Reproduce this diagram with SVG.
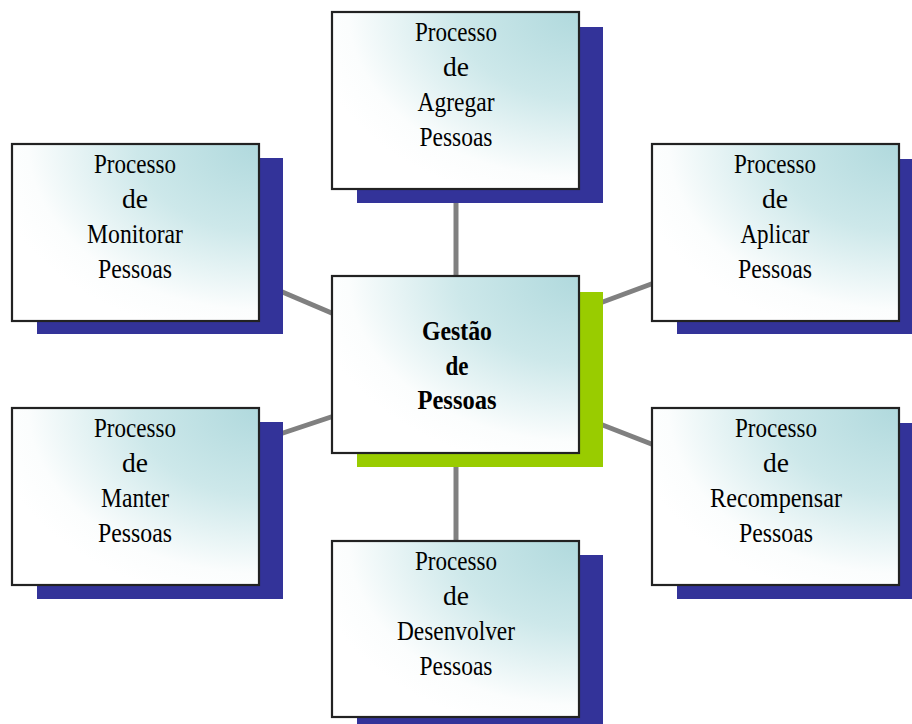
<svg xmlns="http://www.w3.org/2000/svg" width="912" height="724" viewBox="0 0 912 724">
<defs>
<radialGradient id="fill" cx="1" cy="0" r="1.1" fx="1" fy="0">
<stop offset="0" stop-color="#b0d9dd"/>
<stop offset="0.45" stop-color="#cde8ea"/>
<stop offset="0.85" stop-color="#fbfdfd"/>
<stop offset="1" stop-color="#ffffff"/>
</radialGradient>
<style>
.box{fill:url(#fill);stroke:#222;stroke-width:2.2}
.sb{fill:#333399}
.sg{fill:#99cc00}
.t{font-family:"Liberation Serif","Times New Roman",serif;font-size:27px;fill:#000;text-anchor:middle}
.b{font-weight:bold}
.c{stroke:#808080;stroke-width:5;fill:none}
</style>
</defs>
<rect width="912" height="724" fill="#fff"/>
<g id="connectors">
<line class="c" x1="456" y1="200" x2="456" y2="280"/>
<line class="c" x1="456" y1="462" x2="456" y2="544"/>
<line class="c" x1="280" y1="291" x2="334" y2="314"/>
<line class="c" x1="280" y1="434" x2="334" y2="416"/>
<line class="c" x1="600" y1="303" x2="654" y2="283"/>
<line class="c" x1="600" y1="424" x2="654" y2="445"/>
</g>
<g id="agregar">
<rect class="sb" x="357" y="27" width="246" height="176"/>
<rect class="box" x="332" y="12" width="247" height="177"/>
<text class="t" x="456" y="41" textLength="82" lengthAdjust="spacingAndGlyphs">Processo</text>
<text class="t" x="456" y="76" textLength="26" lengthAdjust="spacingAndGlyphs">de</text>
<text class="t" x="456" y="111" textLength="77" lengthAdjust="spacingAndGlyphs">Agregar</text>
<text class="t" x="456" y="146" textLength="73" lengthAdjust="spacingAndGlyphs">Pessoas</text>
</g>
<g id="monitorar">
<rect class="sb" x="37" y="158" width="246" height="176"/>
<rect class="box" x="12" y="144" width="247" height="177"/>
<text class="t" x="135" y="173" textLength="82" lengthAdjust="spacingAndGlyphs">Processo</text>
<text class="t" x="135" y="208" textLength="26" lengthAdjust="spacingAndGlyphs">de</text>
<text class="t" x="135" y="243" textLength="96" lengthAdjust="spacingAndGlyphs">Monitorar</text>
<text class="t" x="135" y="278" textLength="74" lengthAdjust="spacingAndGlyphs">Pessoas</text>
</g>
<g id="aplicar">
<rect class="sb" x="677" y="159" width="246" height="175"/>
<rect class="box" x="652" y="144" width="247" height="177"/>
<text class="t" x="775" y="173" textLength="82" lengthAdjust="spacingAndGlyphs">Processo</text>
<text class="t" x="775" y="208" textLength="26" lengthAdjust="spacingAndGlyphs">de</text>
<text class="t" x="775" y="243" textLength="69" lengthAdjust="spacingAndGlyphs">Aplicar</text>
<text class="t" x="775" y="278" textLength="74" lengthAdjust="spacingAndGlyphs">Pessoas</text>
</g>
<g id="gestao">
<rect class="sg" x="357" y="292" width="246" height="175"/>
<rect class="box" x="332" y="276" width="247" height="177"/>
<text class="t b" x="457" y="340" textLength="70" lengthAdjust="spacingAndGlyphs">Gestão</text>
<text class="t b" x="457" y="375" textLength="23" lengthAdjust="spacingAndGlyphs">de</text>
<text class="t b" x="457" y="409" textLength="79" lengthAdjust="spacingAndGlyphs">Pessoas</text>
</g>
<g id="manter">
<rect class="sb" x="37" y="422" width="246" height="177"/>
<rect class="box" x="12" y="408" width="247" height="177"/>
<text class="t" x="135" y="437" textLength="82" lengthAdjust="spacingAndGlyphs">Processo</text>
<text class="t" x="135" y="472" textLength="26" lengthAdjust="spacingAndGlyphs">de</text>
<text class="t" x="135" y="507" textLength="68" lengthAdjust="spacingAndGlyphs">Manter</text>
<text class="t" x="135" y="542" textLength="74" lengthAdjust="spacingAndGlyphs">Pessoas</text>
</g>
<g id="recompensar">
<rect class="sb" x="677" y="423" width="246" height="176"/>
<rect class="box" x="652" y="408" width="247" height="177"/>
<text class="t" x="776" y="437" textLength="82" lengthAdjust="spacingAndGlyphs">Processo</text>
<text class="t" x="776" y="472" textLength="26" lengthAdjust="spacingAndGlyphs">de</text>
<text class="t" x="776" y="507" textLength="132" lengthAdjust="spacingAndGlyphs">Recompensar</text>
<text class="t" x="776" y="542" textLength="74" lengthAdjust="spacingAndGlyphs">Pessoas</text>
</g>
<g id="desenvolver">
<rect class="sb" x="357" y="555" width="246" height="176"/>
<rect class="box" x="332" y="541" width="247" height="176"/>
<text class="t" x="456" y="570" textLength="82" lengthAdjust="spacingAndGlyphs">Processo</text>
<text class="t" x="456" y="605" textLength="26" lengthAdjust="spacingAndGlyphs">de</text>
<text class="t" x="456" y="640" textLength="118" lengthAdjust="spacingAndGlyphs">Desenvolver</text>
<text class="t" x="456" y="675" textLength="73" lengthAdjust="spacingAndGlyphs">Pessoas</text>
</g>
</svg>
